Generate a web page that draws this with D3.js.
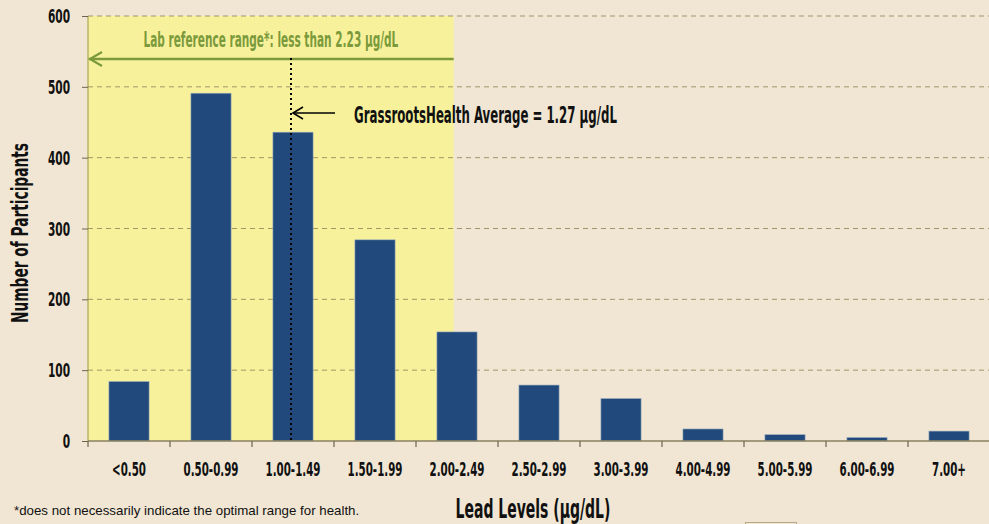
<!DOCTYPE html>
<html><head><meta charset="utf-8">
<script src="https://cdn.jsdelivr.net/npm/d3@7"></script>
<style>
html,body{margin:0;padding:0;background:#f0e6d3;}
svg{display:block;}
.cond{font-family:"DejaVu Sans Condensed","DejaVu Sans",sans-serif;font-weight:bold;}
</style></head>
<body>
<svg id="chart" width="989" height="524"></svg>
<script>
const categories = ["<0.50","0.50-0.99","1.00-1.49","1.50-1.99","2.00-2.49","2.50-2.99","3.00-3.99","4.00-4.99","5.00-5.99","6.00-6.99","7.00+"];
const participants = [84, 491, 436, 284, 154, 79, 60, 17, 9, 5, 14];
const yTicks = [0, 100, 200, 300, 400, 500, 600];
const labRefLimit = 2.23;          // µg/dL
const labRefBinStart = 2.00, labRefBinWidth = 0.5, labRefCategory = "2.00-2.49";
const averageValue = 1.27;
const averageCategory = "1.00-1.49";
const labText = "Lab reference range*: less than 2.23 \u03bcg/dL";
const avgText = "GrassrootsHealth Average = 1.27 \u03bcg/dL";
const xTitle = "Lead Levels (\u03bcg/dL)";
const yTitle = "Number of Participants";
const footnote = "*does not necessarily indicate the optimal range for health.";

const svg = d3.select("#chart");
const W = 989, H = 524;
const m = {left: 88, right: -1, top: 16, bottom: 83};
const x = d3.scaleBand().domain(categories).range([m.left, W - m.right]).paddingInner(0.51).paddingOuter(0.255);
const y = d3.scaleLinear().domain([0, 600]).range([H - m.bottom, m.top]);
const step = x.step();
const bandStart = c => x(c) - x.paddingOuter() * step;

// narrow text: put text at (px,py), compressed horizontally by factor f (or fitted to width w)
function narrowText(parent, str, px, py, opts) {
  const t = parent.append("text").attr("class", "cond").attr("x", 0).attr("y", 0)
    .attr("font-size", opts.size).attr("fill", opts.fill || "#111")
    .attr("text-anchor", opts.anchor || "start").text(str);
  let f = opts.f;
  if (opts.w) f = opts.w / t.node().getComputedTextLength();
  const rot = opts.rotate ? ` rotate(${opts.rotate})` : "";
  t.attr("transform", `translate(${px},${py})${rot} scale(${f},1)`);
  return t;
}

svg.append("rect").attr("width", W).attr("height", H).attr("fill", "#f0e6d3");

// yellow lab reference region
const xRef = bandStart(labRefCategory) + (labRefLimit - labRefBinStart) / labRefBinWidth * step;
svg.append("rect").attr("x", m.left).attr("y", y(600)).attr("width", xRef - m.left).attr("height", y(0) - y(600))
  .attr("fill", "#f8f19b");
svg.append("line").attr("x1", m.left).attr("x2", m.left).attr("y1", y(600)).attr("y2", y(0))
  .attr("stroke", "#b9b56a").attr("stroke-width", 1.5);

// gridlines
const grid = svg.append("g");
yTicks.filter(t => t > 0).forEach(t => {
  grid.append("line").attr("x1", m.left).attr("x2", W).attr("y1", y(t)).attr("y2", y(t))
    .attr("stroke", "#8f8a5e").attr("stroke-width", 1).attr("stroke-dasharray", "5,4").attr("opacity", 0.85);
});

// y axis ticks & labels
const yAxis = d3.axisLeft(y).tickValues(yTicks).tickSize(6).tickFormat("");
const ya = svg.append("g").attr("transform", `translate(${m.left},0)`).call(yAxis);
ya.select(".domain").remove();
ya.selectAll(".tick line").attr("stroke", "#6b6450");
const yl = svg.append("g");
yTicks.forEach(t => narrowText(yl, d3.format("d")(t), m.left - 18, y(t) + 7, {size: 19, f: 0.62, anchor: "end"}));

// bars
svg.append("g").selectAll("rect").data(categories).join("rect")
  .attr("x", d => x(d)).attr("width", x.bandwidth())
  .attr("y", (d, i) => y(participants[i])).attr("height", (d, i) => y(0) - y(participants[i]))
  .attr("fill", "#21497b").attr("stroke", "#9fb0c0").attr("stroke-width", 0.6);

// x axis
const xa = svg.append("g").attr("transform", `translate(0,${y(0)})`);
xa.append("line").attr("x1", m.left).attr("x2", W).attr("y1", 0).attr("y2", 0).attr("stroke", "#8a8060").attr("stroke-width", 1.5);
categories.forEach(c => {
  const bx = bandStart(c);
  xa.append("line").attr("x1", bx).attr("x2", bx).attr("y1", 0).attr("y2", 6).attr("stroke", "#6b6450").attr("stroke-width", 1.2);
  narrowText(xa, c, x(c) + x.bandwidth() / 2, 35, {size: 20, f: 0.57, anchor: "middle"});
});

// lab reference arrow
const arrowY = 59;
const green = "#7a9a3c";
svg.append("line").attr("x1", m.left + 1).attr("x2", xRef).attr("y1", arrowY).attr("y2", arrowY)
  .attr("stroke", green).attr("stroke-width", 2.5);
svg.append("path").attr("d", `M${m.left + 14},${arrowY - 7} L${m.left + 2},${arrowY} L${m.left + 14},${arrowY + 7}`)
  .attr("fill", "none").attr("stroke", green).attr("stroke-width", 2.2);
narrowText(svg, labText, (m.left + xRef) / 2, 47, {size: 21, w: 255, anchor: "middle", fill: green});

// average line
const xAvg = x(averageCategory) + x.bandwidth() / 2 - 2;
svg.append("line").attr("x1", xAvg).attr("x2", xAvg).attr("y1", arrowY - 1).attr("y2", y(0))
  .attr("stroke", "#000").attr("stroke-width", 2).attr("stroke-dasharray", "2,3");
const avgY = 113;
svg.append("line").attr("x1", xAvg + 2).attr("x2", xAvg + 44).attr("y1", avgY).attr("y2", avgY).attr("stroke", "#000").attr("stroke-width", 1.6);
svg.append("path").attr("d", `M${xAvg + 12},${avgY - 6} L${xAvg + 2},${avgY} L${xAvg + 12},${avgY + 6}`)
  .attr("fill", "none").attr("stroke", "#000").attr("stroke-width", 1.6);
narrowText(svg, avgText, xAvg + 63, 123, {size: 23, w: 263});

// axis titles
narrowText(svg, yTitle, 28, 233, {size: 23, w: 180, anchor: "middle", rotate: -90});
narrowText(svg, xTitle, 533, 518, {size: 27, w: 155, anchor: "middle"});

// footnote
svg.append("text").attr("x", 14).attr("y", 515).attr("font-family", "Liberation Sans, Arial, sans-serif")
  .attr("font-size", 13.3).attr("fill", "#111").text(footnote);

// small frame artifact at bottom
svg.append("rect").attr("x", 745.5).attr("y", 522.5).attr("width", 51).attr("height", 4)
  .attr("fill", "none").attr("stroke", "#b8a888").attr("stroke-width", 1);
</script>
</body></html>
